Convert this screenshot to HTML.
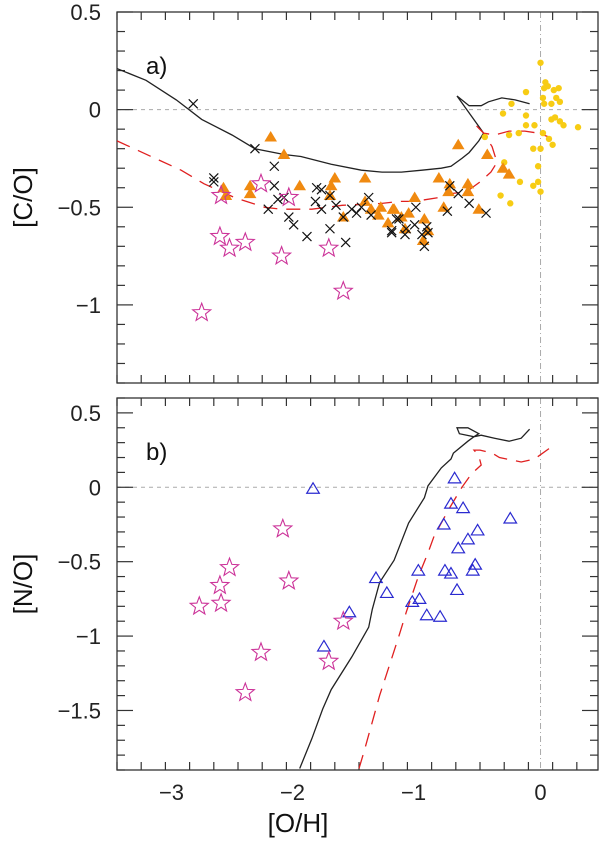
<!DOCTYPE html>
<html><head><meta charset="utf-8"><style>
html,body{margin:0;padding:0;background:#fff;}
svg{display:block;font-family:"Liberation Sans",sans-serif;}
</style></head><body>
<svg id="chart" width="600" height="843" viewBox="0 0 600 843"></svg>
<script>
// ---- data (panel a: [C/O] vs [O/H]) ----
const aCrossX=[-2.87,-2.36,-2.20,-2.70,-2.70,-2.20,-2.17,-2.12,-2.25,-2.08,-2.04,-1.93,-1.85,-1.81,-1.86,-1.81,-1.74,-1.69,-1.74,-1.61,-1.63,-1.56,-1.52,-1.48,-1.42,-1.40,-1.23,-1.17,-0.75,-0.68,-0.77,-0.59,-0.45,-1.03,-1.19,-1.23,-1.11,-1.04,-0.94,-1.12,-0.98,-0.96,-0.93];
const aCrossY=[0.03,-0.20,-0.29,-0.35,-0.37,-0.39,-0.46,-0.45,-0.51,-0.55,-0.59,-0.65,-0.40,-0.41,-0.47,-0.51,-0.44,-0.49,-0.61,-0.68,-0.55,-0.51,-0.53,-0.50,-0.45,-0.54,-0.63,-0.56,-0.39,-0.43,-0.52,-0.48,-0.53,-0.50,-0.56,-0.62,-0.61,-0.59,-0.60,-0.64,-0.64,-0.70,-0.63];
const aTriX=[-2.23,-2.12,-2.40,-2.40,-1.99,-1.70,-1.73,-1.74,-1.45,-1.45,-1.40,-1.32,-1.34,-1.22,-1.26,-1.63,-0.84,-0.75,-0.60,-0.76,-0.60,-0.80,-0.51,-1.04,-1.21,-1.09,-1.15,-0.96,-1.12,-0.93,-0.97,-0.44,-0.31,-0.26,-0.68,-2.62,-2.60];
const aTriY=[-0.14,-0.23,-0.39,-0.43,-0.39,-0.35,-0.39,-0.44,-0.35,-0.47,-0.51,-0.50,-0.54,-0.51,-0.58,-0.55,-0.35,-0.38,-0.38,-0.42,-0.42,-0.50,-0.51,-0.45,-0.51,-0.53,-0.55,-0.56,-0.61,-0.62,-0.67,-0.23,-0.30,-0.33,-0.18,-0.40,-0.44];
const aDotX=[0,0.04,0.06,0.03,0.11,0.15,-0.12,0.02,0.13,0.16,-0.24,0.03,0.09,-0.31,-0.12,0.12,0.09,0.16,0.19,0.31,-0.12,-0.05,-0.18,-0.26,-0.46,0.02,0.07,0.10,-0.06,0,-0.30,-0.02,-0.17,-0.06,-0.02,0,-0.33,-0.25];
const aDotY=[0.24,0.14,0.12,0.11,0.10,0.11,0.09,0.06,0.06,0.04,0.03,0.03,0.03,-0.02,-0.03,-0.04,-0.05,-0.06,-0.08,-0.09,-0.08,-0.08,-0.12,-0.13,-0.14,-0.12,-0.15,-0.18,-0.20,-0.20,-0.27,-0.29,-0.37,-0.39,-0.37,-0.42,-0.44,-0.48];
const aStarX=[-2.80,-2.64,-2.31,-2.08,-2.65,-2.57,-2.44,-2.14,-1.75,-1.63];
const aStarY=[-1.04,-0.44,-0.38,-0.45,-0.65,-0.71,-0.68,-0.75,-0.71,-0.93];
const aSolidX=[-3.5,-3.26,-3.01,-2.80,-2.55,-2.36,-2.12,-1.98,-1.73,-1.48,-1.31,-1.15,-0.98,-0.82,-0.74,-0.65,-0.59,-0.51,-0.47,-0.69,-0.59,-0.49,-0.43,-0.32,-0.21,-0.09];
const aSolidY=[0.21,0.15,0.05,-0.05,-0.13,-0.20,-0.23,-0.24,-0.28,-0.31,-0.32,-0.32,-0.31,-0.30,-0.29,-0.25,-0.22,-0.16,-0.12,0.07,0.02,0.02,0.04,0.06,0.05,0.03];
const aDashX=[-3.5,-2.97,-2.78,-2.53,-2.28,-2.14,-1.89,-1.64,-1.31,-1.17,-1.04,-0.84,-0.74,-0.61,-0.50,-0.41,-0.36,-0.40,-0.47,-0.55,-0.47,-0.38,-0.26,-0.13,-0.02,0.07];
const aDashY=[-0.16,-0.31,-0.38,-0.45,-0.50,-0.51,-0.51,-0.49,-0.48,-0.47,-0.47,-0.45,-0.43,-0.42,-0.37,-0.32,-0.27,-0.19,-0.12,-0.07,-0.12,-0.13,-0.11,-0.11,-0.12,-0.14];
// ---- data (panel b: [N/O] vs [O/H]) ----
const bTriX=[-1.88,-1.36,-1.58,-1.79,-0.71,-0.74,-0.64,-0.80,-0.25,-0.52,-0.60,-0.68,-0.54,-0.56,-0.79,-0.74,-1.01,-0.69,-1.27,-1.00,-1.06,-0.94,-0.83];
const bTriY=[-0.01,-0.61,-0.84,-1.07,0.06,-0.11,-0.14,-0.25,-0.21,-0.29,-0.35,-0.41,-0.52,-0.56,-0.56,-0.58,-0.56,-0.69,-0.71,-0.75,-0.77,-0.86,-0.87];
const bStarX=[-2.13,-2.57,-2.65,-2.64,-2.82,-2.08,-1.63,-1.75,-2.31,-2.44];
const bStarY=[-0.28,-0.54,-0.66,-0.78,-0.80,-0.63,-0.90,-1.17,-1.11,-1.38];
const bSolidX=[-1.99,-1.89,-1.80,-1.73,-1.56,-1.42,-1.39,-1.33,-1.21,-1.09,-0.96,-0.93,-0.82,-0.74,-0.72,-0.60,-0.55,-0.67,-0.69,-0.60,-0.51,-0.55,-0.49,-0.38,-0.26,-0.16,-0.09];
const bSolidY=[-1.89,-1.69,-1.49,-1.36,-1.14,-0.94,-0.82,-0.64,-0.49,-0.24,-0.07,0.01,0.13,0.19,0.23,0.31,0.34,0.36,0.40,0.40,0.36,0.34,0.35,0.33,0.31,0.33,0.39];
const bDashX=[-1.50,-1.46,-1.33,-1.17,-1.11,-1.01,-0.93,-0.88,-0.76,-0.65,-0.57,-0.49,-0.51,-0.55,-0.50,-0.40,-0.34,-0.16,-0.05,0.07];
const bDashY=[-1.89,-1.78,-1.40,-1.00,-0.84,-0.60,-0.44,-0.33,-0.15,0.00,0.09,0.15,0.21,0.25,0.25,0.23,0.20,0.17,0.19,0.26];
const xTickLabels=["−3","−2","−1","0"];
const xTickVals=[-3,-2,-1,0];
const aYTickVals=[0.5,0,-0.5,-1];
const aYTickLabels=["0.5","0","−0.5","−1"];
const bYTickVals=[0.5,0,-0.5,-1,-1.5];
const bYTickLabels=["0.5","0","−0.5","−1","−1.5"];

const NS="http://www.w3.org/2000/svg";
const svg=document.getElementById('chart');
const L=117,R=598,X0=-3.5,X1=0.475;
function xs(v){return L+(v-X0)/(X1-X0)*(R-L);}
function mk(tag,attrs,parent){const e=document.createElementNS(NS,tag);for(const k in attrs)e.setAttribute(k,attrs[k]);(parent||svg).appendChild(e);return e;}
function starPath(cx,cy,r){let d="";for(let i=0;i<10;i++){const a=-Math.PI/2+i*Math.PI/5;const rr=i%2?r*0.42:r;d+=(i?"L":"M")+(cx+rr*Math.cos(a)).toFixed(1)+","+(cy+rr*Math.sin(a)).toFixed(1);}return d+"Z";}

function panel(name,top,bot,Y0,Y1,yTV,yTL,label,title){
  const g=mk('g',{});
  
  
  const ys=v=>bot-(v-Y0)/(Y1-Y0)*(bot-top);
  // reference lines
  const h=mk('line',{x1:L,x2:R,y1:ys(0),y2:ys(0),stroke:'#aaa','stroke-width':1,'stroke-dasharray':'4,4'},g);
  
  
  const v=mk('line',{x1:xs(0),x2:xs(0),y1:top,y2:bot,stroke:'#aaa','stroke-width':1,'stroke-dasharray':'6,3,1,3'},g);
  
  
  // frame
  const fr=mk('rect',{x:L,y:top,width:R-L,height:bot-top,fill:'none',stroke:'#333','stroke-width':1.3},g);
  
  
  // x ticks
  for(let i=-35;i<=4;i+=2){const val=i/10;const px=xs(val);const major=Math.abs(val-Math.round(val))<1e-6;const len=major?16:8;
    mk('line',{x1:px,x2:px,y1:bot,y2:bot-len,stroke:'#333','stroke-width':1.2},g);
    mk('line',{x1:px,x2:px,y1:top,y2:top+len,stroke:'#333','stroke-width':1.2},g);}
  // y ticks
  for(let i=Math.ceil(Y0*10);i<=Math.floor(Y1*10);i++){const val=i/10;const py=ys(val);const major=i%5===0;const len=major?16:8;
    mk('line',{x1:L,x2:L+len,y1:py,y2:py,stroke:'#333','stroke-width':1.2},g);
    mk('line',{x1:R,x2:R-len,y1:py,y2:py,stroke:'#333','stroke-width':1.2},g);}
  yTV.forEach((val,i)=>{const t=mk('text',{x:101,y:ys(val)+8,'text-anchor':'end','font-size':22,fill:'#222'},g);t.textContent=yTL[i];
    
    });
  const lb=mk('text',{x:146,y:top+62,'font-size':24,fill:'#111'},g);lb.textContent=label;
  
  
  const cy=(top+bot)/2;
  const yt=mk('text',{x:0,y:0,transform:`translate(32,${cy}) rotate(-90)`,'text-anchor':'middle','font-size':26,fill:'#111'},g);yt.textContent=title;
  
  
  const clip='clip-'+name;
  const cp=mk('clipPath',{id:clip},g);mk('rect',{x:L,y:top,width:R-L,height:bot-top},cp);
  const d=mk('g',{'clip-path':`url(#${clip})`},g);
  return {g:d,ys};
}
function line(p,xsArr,ysArr,col,dash,name){
  const pts=xsArr.map((x,i)=>xs(x).toFixed(1)+','+p.ys(ysArr[i]).toFixed(1)).join(' ');
  const e=mk('polyline',{points:pts,fill:'none',stroke:col,'stroke-width':1.3,'stroke-dasharray':dash||'none'},p.g);
  
  
}
function crosses(p,X,Y){X.forEach((x,i)=>{const cx=xs(x),cy=p.ys(Y[i]),s=4.5;
  const e=mk('path',{d:`M${cx-s},${cy-s}L${cx+s},${cy+s}M${cx-s},${cy+s}L${cx+s},${cy-s}`,stroke:'#111','stroke-width':1.2},p.g);
  
  });}
function tris(p,X,Y,fill,stroke,s){X.forEach((x,i)=>{const cx=xs(x),cy=p.ys(Y[i]);
  const e=mk('path',{d:`M${cx},${cy-s}L${cx+s*1.05},${cy+s*0.75}L${cx-s*1.05},${cy+s*0.75}Z`,fill:fill,stroke:stroke,'stroke-width':1.2},p.g);
  
  });}
function dots(p,X,Y){X.forEach((x,i)=>{
  const e=mk('circle',{cx:xs(x),cy:p.ys(Y[i]),r:3.2,fill:'#f7cc14'},p.g);
  
  });}
function stars(p,X,Y){X.forEach((x,i)=>{
  const e=mk('path',{d:starPath(xs(x),p.ys(Y[i]),9.5),fill:'none',stroke:'#cc3399','stroke-width':1.1},p.g);
  
  });}

const pa=panel('panel-a',12,383,-1.4,0.5,aYTickVals,aYTickLabels,'a)','[C/O]');
line(pa,aSolidX,aSolidY,'#222',null,'model-solid-line');
line(pa,aDashX,aDashY,'#e02020','14,9','model-dashed-line');
dots(pa,aDotX,aDotY);
tris(pa,aTriX,aTriY,'#f08a10','none',6);
crosses(pa,aCrossX,aCrossY);
stars(pa,aStarX,aStarY);

const pb=panel('panel-b',398,770,-1.9,0.6,bYTickVals,bYTickLabels,'b)','[N/O]');
line(pb,bSolidX,bSolidY,'#222',null,'model-solid-line');
line(pb,bDashX,bDashY,'#e02020','14,9','model-dashed-line');
tris(pb,bTriX,bTriY,'none','#2a2ad0',6);
stars(pb,bStarX,bStarY);

xTickVals.forEach((v,i)=>{const t=mk('text',{x:xs(v)-(v<0?6:0),y:800,'text-anchor':'middle','font-size':22,fill:'#222'});t.textContent=xTickLabels[i];
  
  });
const xt=mk('text',{x:298,y:832,'text-anchor':'middle','font-size':26,fill:'#111'});xt.textContent='[O/H]';


</script>
</body></html>
